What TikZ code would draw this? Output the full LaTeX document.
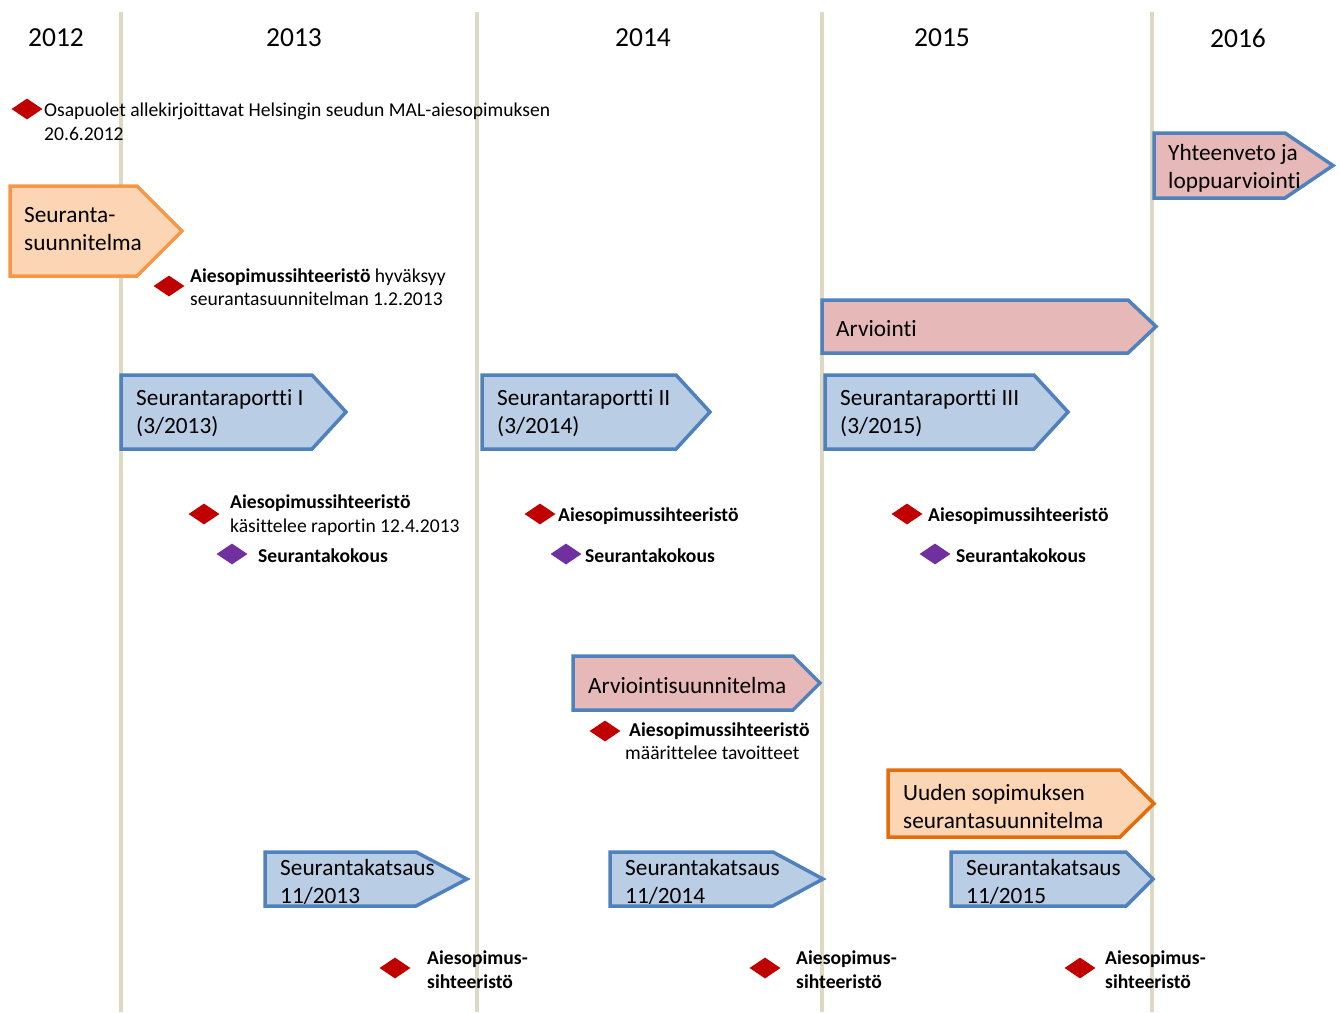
\documentclass[tikz,border=0pt]{standalone}
\usepackage{fontspec}
\setmainfont[Ligatures={NoCommon}]{Carlito}
\usetikzlibrary{shapes.geometric}
\definecolor{yearline}{HTML}{DDD9C3}
\definecolor{bluefill}{HTML}{B9CDE5}
\definecolor{blueedge}{HTML}{4F81BD}
\definecolor{pinkfill}{HTML}{E6B9B8}
\definecolor{orfill}{HTML}{FCD5B5}
\definecolor{oredge}{HTML}{F79646}
\definecolor{oredgedark}{HTML}{E46C0A}
\definecolor{dred}{HTML}{C00000}
\definecolor{dpurple}{HTML}{7030A0}
% pentagon: style, left x, top y, tip x, bottom y, start of tip
\newcommand{\tagbox}[6]{\draw[#1] (#2,#3) -- (#6,#3) -- (#4,{(#3+#5)/2}) -- (#6,#5) -- (#2,#5) -- cycle;}
\begin{document}
\begin{tikzpicture}[x=1pt,y=-1pt,
  yr/.style={font=\fontsize{27.5}{32}\selectfont, yshift=-1pt},
  lbl/.style={anchor=west, align=left, inner sep=0pt, yshift=-1.5pt, font=\fontsize{23.3}{28}\selectfont},
  note/.style={anchor=west, align=left, inner sep=0pt, yshift=-1pt, font=\fontsize{19.6}{23.5}\selectfont},
  bnote/.style={note, font=\fontsize{19.6}{24}\selectfont\bfseries},
  redmark/.style={diamond, fill=dred, minimum width=31, minimum height=21, inner sep=0pt},
  purplemark/.style={diamond, fill=dpurple, minimum width=31, minimum height=21, inner sep=0pt},
  bluebox/.style={draw=blueedge, fill=bluefill, line width=3.5},
  pinkbox/.style={draw=blueedge, fill=pinkfill, line width=3.5},
  orbox/.style={draw=oredge, fill=orfill, line width=3.5},
  orboxdark/.style={draw=oredgedark, fill=orfill, line width=3.5}]
\useasboundingbox (0,0) rectangle (1340,1012);
\foreach \x in {121,477,822,1152}
  \draw[yearline, line width=4] (\x,12) -- (\x,1012);
% years
\node [yr] (y12) at (56,37) {2012};
\node [yr] (y13) at (294,37) {2013};
\node [yr] (y14) at (643,37) {2014};
\node [yr] (y15) at (942,37) {2015};
\node [yr] (y16) at (1238,37) {2016};
% boxes
\tagbox{orbox}{10}{186}{182}{276}{137}
\node [lbl] (suunn) at (24,228) {Seuranta-\\suunnitelma};
\tagbox{pinkbox}{1154}{133}{1333}{198}{1285}
\node [lbl] (yhteen) at (1168,167) {Yhteenveto ja\\loppuarviointi};
\tagbox{pinkbox}{822}{300}{1156}{353}{1128}
\node [lbl] (arv) at (836,327) {Arviointi};
\tagbox{bluebox}{121}{375}{346}{449}{312}
\node [lbl] (rap1) at (136,412) {Seurantaraportti I\\(3/2013)};
\tagbox{bluebox}{482}{375}{710}{449}{676}
\node [lbl] (rap2) at (497,412) {Seurantaraportti II\\(3/2014)};
\tagbox{bluebox}{825}{375}{1068}{449}{1034}
\node [lbl] (rap3) at (840,412) {Seurantaraportti III\\(3/2015)};
\tagbox{pinkbox}{573}{656}{820}{710}{793}
\node [lbl] (arvsuunn) at (588,684) {Arviointisuunnitelma};
\tagbox{orboxdark}{888}{770}{1154}{837}{1120}
\node [lbl] (uusi) at (903,805) {Uuden sopimuksen\\seurantasuunnitelma};
\tagbox{bluebox}{265}{852}{467}{906}{416}
\node [lbl] (kat13) at (280,880) {Seurantakatsaus\\11/2013};
\tagbox{bluebox}{610}{852}{823}{906}{773}
\node [lbl] (kat14) at (625,880) {Seurantakatsaus\\11/2014};
\tagbox{bluebox}{951}{852}{1153}{906}{1126}
\node [lbl] (kat15) at (966,880) {Seurantakatsaus\\11/2015};
% markers
\node [redmark] (m1) at (27,109) {};
\node [note] (t1) at (44,121) {Osapuolet allekirjoittavat Helsingin seudun MAL-aiesopimuksen\\20.6.2012};
\node [redmark] (m2) at (169,286) {};
\node [note] (t2) at (190,286) {\textbf{Aiesopimussihteeristö} hyväksyy\\seurantasuunnitelman 1.2.2013};
\node [redmark] (m3) at (204,514) {};
\node [note] (t3) at (230,514) {\textbf{Aiesopimussihteeristö}\\käsittelee raportin 12.4.2013};
\node [purplemark] (k1) at (232,554) {};
\node [bnote] (tk1) at (258,555) {Seurantakokous};
\node [redmark] (m4) at (540,514) {};
\node [bnote] (t4) at (558,515) {Aiesopimussihteeristö};
\node [purplemark] (k2) at (566,554) {};
\node [bnote] (tk2) at (585,555) {Seurantakokous};
\node [redmark] (m5) at (907,514) {};
\node [bnote] (t5) at (928,515) {Aiesopimussihteeristö};
\node [purplemark] (k3) at (935,554) {};
\node [bnote] (tk3) at (956,555) {Seurantakokous};
\node [redmark] (m6) at (605,731) {};
\node [note] (t6) at (625,740) {\hspace*{4pt}\textbf{Aiesopimussihteeristö}\\määrittelee tavoitteet};
\node [redmark] (m7) at (395,968) {};
\node [bnote] (t7) at (427,969) {Aiesopimus-\\sihteeristö};
\node [redmark] (m8) at (765,968) {};
\node [bnote] (t8) at (796,969) {Aiesopimus-\\sihteeristö};
\node [redmark] (m9) at (1080,968) {};
\node [bnote] (t9) at (1105,969) {Aiesopimus-\\sihteeristö};
\end{tikzpicture}
\end{document}
